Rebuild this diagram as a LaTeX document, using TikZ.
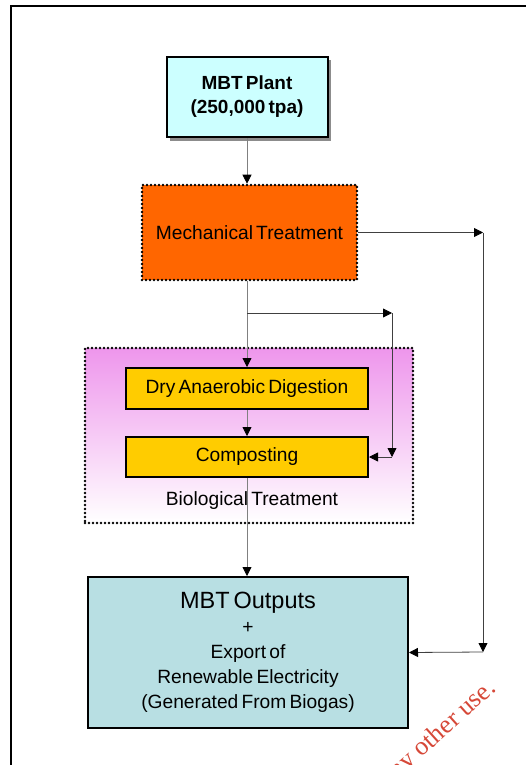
\documentclass[tikz,border=0pt]{standalone}
\usepackage{fontspec}
\setmainfont{Liberation Sans}
\newfontfamily\wmfont{Liberation Serif}
\usetikzlibrary{arrows.meta,shadows}
\definecolor{plantcyan}{RGB}{204,255,255}
\definecolor{mechorange}{RGB}{255,102,0}
\definecolor{bioviolet}{RGB}{238,150,236}
\definecolor{stepgold}{RGB}{255,204,0}
\definecolor{outblue}{RGB}{184,223,227}
\definecolor{wmred}{RGB}{214,72,56}

\begin{document}
\begin{tikzpicture}[x=1pt, y=-1pt,
  box/.style={draw=black, line width=2pt, inner sep=0pt, align=center},
  dotbox/.style={draw=black, line width=2.6pt, line cap=round, dash pattern=on 0pt off 4pt, inner sep=0pt},
  conn/.style={draw=black!50, line width=0.8pt, -{Triangle[length=9pt,width=9pt,color=black]}},
  conndark/.style={conn, draw=black!75}]
\useasboundingbox (0,0) rectangle (526,765);

% Page frame
\draw[line width=1.6pt] (11,765) -- (11,6) -- (527,6);

% Watermark
\begin{scope}
\clip (0,0) rectangle (526,765);
\node[wmred, font=\wmfont\fontsize{26}{26}\selectfont, rotate=42, anchor=base east, inner sep=0pt] (wm) at (497,690) {for any other use.};
\end{scope}

% Biological treatment area
\node[dotbox, top color=bioviolet, bottom color=white, minimum width=328pt, minimum height=175pt] (bio) at (249,435.5) {};
\node[font=\fontsize{19.2}{22}\selectfont] (biolbl) at (252,501) {Biological\,Treatment};

% Process boxes
\node[box, fill=plantcyan, minimum width=161pt, minimum height=80pt, font=\bfseries\fontsize{19}{24}\selectfont,
  drop shadow={shadow xshift=3.5pt, shadow yshift=-3.5pt, fill=black!45, opacity=1}] (plant) at (247,97) {MBT\,Plant\\(250,000\,tpa)};
\node[dotbox, fill=mechorange, minimum width=215pt, minimum height=95pt, font=\fontsize{19.2}{22}\selectfont] (mech) at (249.5,232.5) {Mechanical\,Treatment};
\node[box, fill=stepgold, minimum width=242pt, minimum height=41pt, font=\fontsize{19.2}{22}\selectfont] (dad) at (247,388.5) {Dry\,Anaerobic\,Digestion};
\node[box, fill=stepgold, minimum width=242pt, minimum height=40pt, font=\fontsize{19.2}{22}\selectfont] (comp) at (247,457) {Composting};
\node[box, fill=outblue, minimum width=320pt, minimum height=151pt, font=\fontsize{19.2}{25}\selectfont] (out) at (248,652.5)
  {{\fontsize{23.5}{25}\selectfont MBT\,Outputs}\\+\\Export\,of\\Renewable\,Electricity\\(Generated\,From\,Biogas)};

% Helper points
\coordinate (br) at (247,313);
\coordinate (brc) at (392,313);
\coordinate (brd) at (392,457);
\coordinate (rt) at (483,232.5);
\coordinate (rb) at (483,652);

% Arrows
\draw[conn] (plant.south) -- (plant.south |- mech.north);
\draw[conn] (plant.south |- mech.south) -- (dad.north);
\draw[conn] (dad.south) -- (comp.north);
\draw[conn] (comp.south) -- (comp.south |- out.north);
\draw[conndark] (br) -- (brc);
\draw[conndark] (brc) -- (brd);
\draw[conndark] (brd) -- (comp.east);
\draw[conndark] (mech.east) -- (rt);
\draw[conndark] (rt) -- (rb);
\draw[conndark] (rb) -- (out.east);
\end{tikzpicture}
\end{document}
